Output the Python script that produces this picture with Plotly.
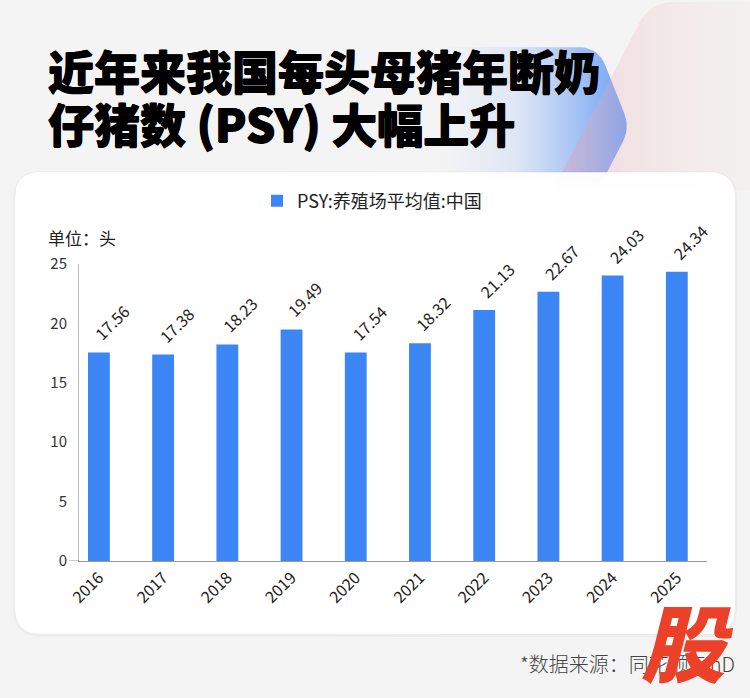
import numpy as np
import plotly.graph_objects as go

# ---------------- data ----------------
years = ["2016", "2017", "2018", "2019", "2020", "2021", "2022", "2023", "2024", "2025"]
psy = [17.56, 17.38, 18.23, 19.49, 17.54, 18.32, 21.13, 22.67, 24.03, 24.34]
y_ticks = [0, 5, 10, 15, 20, 25]
series_name = "PSY:养殖场平均值:中国"
title_lines = ["近年来我国每头母猪年断奶", "仔猪数 (PSY) 大幅上升"]
unit_label = "单位：头"
source_label = "*数据来源：同花顺iFinD"
watermark = "股"

# ---------------- style ----------------
W, H = 750, 698
FONT = "Noto Sans CJK SC, Noto Sans, sans-serif"
BLUE = "#3b86f4"
BG = "#f4f4f4"


def py(v):  # pixel y (from top) -> paper y
    return (H - v) / H


def px(v):
    return v / W


def rounded_poly(pts, radii, n=10):
    """Polygon with rounded corners (quadratic bezier at each vertex)."""
    pts = [np.array(p, float) for p in pts]
    out_x, out_y = [], []
    m = len(pts)
    for i in range(m):
        p0, p1, p2 = pts[i - 1], pts[i], pts[(i + 1) % m]
        r = radii[i]
        if r <= 0:
            out_x.append(p1[0]); out_y.append(p1[1]); continue
        d0 = (p0 - p1) / np.linalg.norm(p0 - p1)
        d2 = (p2 - p1) / np.linalg.norm(p2 - p1)
        a, b = p1 + d0 * r, p1 + d2 * r
        for t in np.linspace(0, 1, n):
            q = (1 - t) ** 2 * a + 2 * (1 - t) * t * p1 + t ** 2 * b
            out_x.append(q[0]); out_y.append(q[1])
    out_x.append(out_x[0]); out_y.append(out_y[0])
    return out_x, out_y


fig = go.Figure()

# ---------- decorative background (pixel axes x / y) ----------
bx, by = rounded_poly([(440, 47), (598, 47), (630, 128), (602, 182), (440, 182)], [0, 20, 16, 0, 0])
fig.add_trace(go.Scatter(
    x=bx, y=by, mode="lines", line=dict(width=0), fill="toself",
    fillgradient=dict(type="horizontal", colorscale=[
        [0, "rgba(140,178,246,0)"], [0.4, "rgba(140,178,246,0.2)"],
        [0.8, "rgba(110,160,246,0.7)"], [1, "rgba(95,150,246,0.9)"]]),
    hoverinfo="skip", showlegend=False, xaxis="x", yaxis="y"))

kx, ky = rounded_poly([(553, 190), (650, 2), (760, 2), (760, 190)], [0, 24, 0, 0])
fig.add_trace(go.Scatter(
    x=kx, y=ky, mode="lines", line=dict(width=0), fill="toself",
    fillgradient=dict(type="horizontal", colorscale=[
        [0, "rgba(232,150,160,0.42)"], [0.35, "rgba(236,175,180,0.25)"],
        [1, "rgba(240,215,215,0.12)"]]),
    hoverinfo="skip", showlegend=False, xaxis="x", yaxis="y"))

# card shadow + card
sx, sy = rounded_poly([(13, 171), (737, 171), (737, 637), (13, 637)], [28] * 4)
fig.add_trace(go.Scatter(x=sx, y=sy, mode="lines", line=dict(width=0), fill="toself",
                         fillcolor="rgba(0,0,0,0.03)", hoverinfo="skip", showlegend=False,
                         xaxis="x", yaxis="y"))
cx, cy = rounded_poly([(15, 172), (735, 172), (735, 634), (15, 634)], [26] * 4)
fig.add_trace(go.Scatter(x=cx, y=cy, mode="lines", line=dict(width=0), fill="toself",
                         fillcolor="rgba(255,255,255,0.97)", hoverinfo="skip", showlegend=False,
                         xaxis="x", yaxis="y"))

# ---------- bar chart (x2 / y2) ----------
idx = list(range(len(years)))
fig.add_trace(go.Bar(x=idx, y=psy, name=series_name, marker=dict(color=BLUE, line=dict(width=0)),
                     width=0.34, xaxis="x2", yaxis="y2", hoverinfo="y"))

annotations = []
for i, v in zip(idx, psy):
    annotations.append(dict(x=i, y=v, xref="x2", yref="y2", text=f"{v:.2f}", showarrow=False,
                            textangle=-45, xanchor="center", yanchor="middle", xshift=13, yshift=30,
                            font=dict(family=FONT, size=16, color="#222")))

TITLE_SHADOW = "0.6px 0 0 #000, -0.6px 0 0 #000, 0 0.6px 0 #000"
annotations += [
    dict(x=px(46), y=py(69), xref="paper", yref="paper", text=title_lines[0], showarrow=False,
         xanchor="left", yanchor="middle",
         font=dict(family=FONT, size=46, color="#000", weight=900, shadow=TITLE_SHADOW)),
    dict(x=px(46), y=py(122), xref="paper", yref="paper", text=title_lines[1], showarrow=False,
         xanchor="left", yanchor="middle",
         font=dict(family=FONT, size=46, color="#000", weight=900, shadow=TITLE_SHADOW)),
    dict(x=px(46), y=py(237), xref="paper", yref="paper", text=unit_label, showarrow=False,
         xanchor="left", yanchor="middle", font=dict(family=FONT, size=17, color="#222")),
    dict(x=px(737), y=py(663), xref="paper", yref="paper", text=source_label, showarrow=False,
         xanchor="right", yanchor="middle", font=dict(family=FONT, size=20, color="#444", weight=300)),
    dict(x=px(687), y=py(639), xref="paper", yref="paper", text=watermark, showarrow=False,
         xanchor="center", yanchor="middle",
         font=dict(family=FONT, size=84, color="#ea4128", weight=900, style="italic")),
]

fig.update_layout(
    width=W, height=H, margin=dict(l=0, r=0, t=0, b=0, autoexpand=False),
    paper_bgcolor=BG, plot_bgcolor="rgba(0,0,0,0)",
    font=dict(family=FONT, color="#222"),
    xaxis=dict(domain=[0, 1], range=[0, W], visible=False, fixedrange=True, automargin=False),
    yaxis=dict(domain=[0, 1], range=[H, 0], visible=False, fixedrange=True, automargin=False),
    xaxis2=dict(domain=[px(79), px(707)], anchor="y2", range=[-0.31, 9.47],
                tickvals=idx, ticktext=years, automargin=False,
                showline=True, linecolor="#999", linewidth=1,
                showgrid=False, zeroline=False, ticks="", tickangle=-45,
                tickfont=dict(family=FONT, size=16, color="#222")),
    yaxis2=dict(domain=[py(561), py(264)], anchor="x2", range=[0, 25], tickvals=y_ticks,
                automargin=False,
                showline=True, linecolor="#bbb", linewidth=1, showgrid=False, zeroline=False,
                ticks="", ticklabelstandoff=8,
                tickfont=dict(family=FONT, size=15, color="#333")),
    showlegend=True,
    legend=dict(orientation="h", x=px(257), xanchor="left", y=py(201), yanchor="middle",
                bgcolor="rgba(0,0,0,0)", font=dict(family=FONT, size=18, color="#222")),
    annotations=annotations,
    shapes=[dict(type="line", xref="paper", yref="y2", x0=px(69), x1=px(79), y0=0, y1=0,
                 line=dict(color="#999", width=1))],
)

fig.write_html("out.html")
